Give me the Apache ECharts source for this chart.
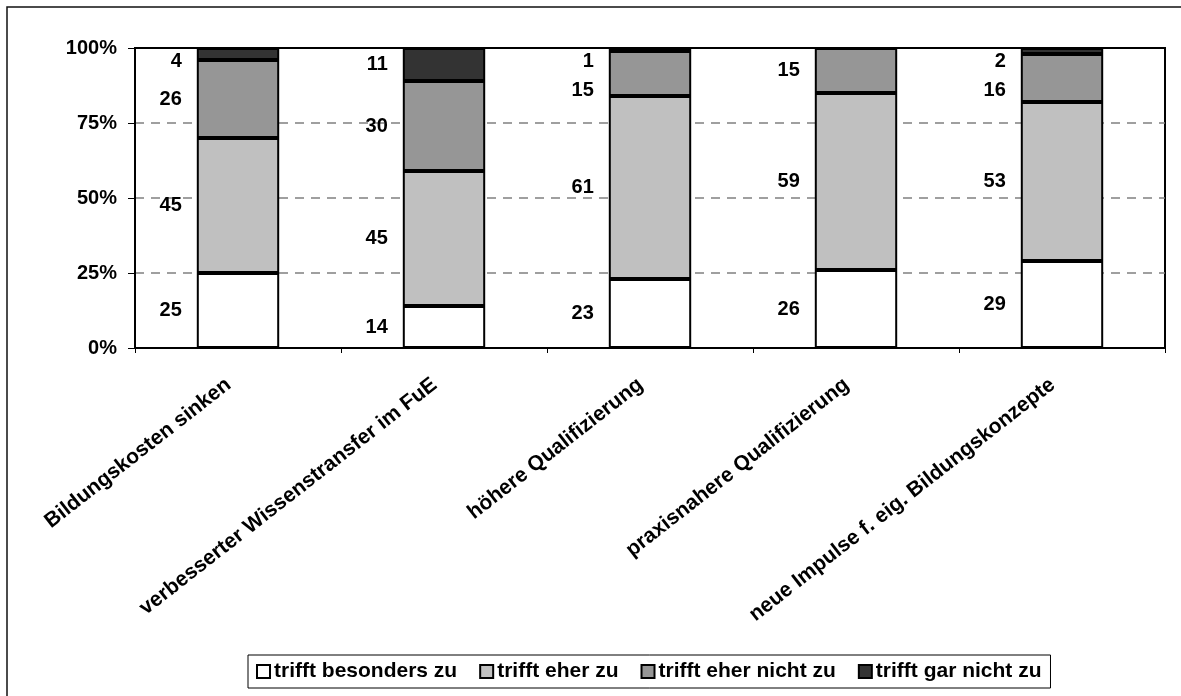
<!DOCTYPE html>
<html>
<head>
<meta charset="utf-8">
<script src="https://cdn.jsdelivr.net/npm/echarts@6/dist/echarts.min.js"></script>
<style>
  html, body { margin: 0; padding: 0; background: #fff; }
  #chart { width: 1181px; height: 696px; }
</style>
</head>
<body>
<div id="chart"></div>
<script>
// Survey answers per statement, in percent of respondents
const categories = [
  'Bildungskosten sinken',
  'verbesserter Wissenstransfer im FuE',
  'höhere Qualifizierung',
  'praxisnahere Qualifizierung',
  'neue Impulse f. eig. Bildungskonzepte'
];
const seriesNames = ['trifft besonders zu', 'trifft eher zu', 'trifft eher nicht zu', 'trifft gar nicht zu'];
const besondersZu = [25, 14, 23, 26, 29];
const eherZu      = [45, 45, 61, 59, 53];
const eherNichtZu = [26, 30, 15, 15, 16];
const garNichtZu  = [4, 11, 1, 0, 2];
const yTicks = [0, 25, 50, 75, 100];

const seriesValues = [besondersZu, eherZu, eherNichtZu, garNichtZu];
const fills = ['#FFFFFF', '#C0C0C0', '#969696', '#333333'];
const FONT = '"Liberation Sans", Arial, sans-serif';
const GRID_TOP = 48;

// Keep the labels of thin top segments readable: push them below the frame
// and keep the label underneath at a readable distance.
function nudgeLabel(p) {
  const cy = p.labelRect.y + p.labelRect.height / 2;
  const minCenter = GRID_TOP + 13;
  if (p.seriesIndex === 3) {
    return { dy: Math.max(0, minCenter - cy) };
  }
  if (p.seriesIndex === 2 && garNichtZu[p.dataIndex] > 0) {
    const above = Math.max(minCenter, (GRID_TOP + p.rect.y) / 2);
    return { dy: Math.max(0, above + 29 - cy) };
  }
  return {};
}

const chart = echarts.init(document.getElementById('chart'), null, { renderer: 'canvas' });

chart.setOption({
  animation: false,
  backgroundColor: '#fff',
  textStyle: { fontFamily: FONT },
  graphic: [{
    type: 'rect',
    shape: { x: 7, y: 7, width: 1400, height: 900 },
    style: { fill: 'none', stroke: '#111', lineWidth: 1.5 },
    silent: true
  }],
  grid: {
    left: 135, right: 16, top: GRID_TOP, bottom: 348,
    show: true, borderColor: '#000', borderWidth: 2, backgroundColor: 'transparent'
  },
  legend: {
    data: seriesNames,
    left: 248, top: 655,
    orient: 'horizontal',
    icon: 'rect',
    itemWidth: 13, itemHeight: 13,
    itemGap: 22,
    padding: [6, 9, 6, 8],
    borderColor: '#000', borderWidth: 1,
    textStyle: { fontFamily: FONT, fontSize: 21, fontWeight: 'bold', color: '#000', padding: [0, 0, 0, -1] }
  },
  xAxis: {
    type: 'category',
    data: categories,
    axisLine: { lineStyle: { color: '#000', width: 2 } },
    axisTick: { show: true, length: 5, lineStyle: { color: '#000', width: 1 } },
    axisLabel: {
      interval: 0, rotate: 38, margin: 27,
      padding: [0, 12, 0, 0],
      fontFamily: FONT, fontSize: 21, fontWeight: 'bold', color: '#000'
    },
    splitLine: { show: false }
  },
  yAxis: {
    type: 'value',
    min: yTicks[0], max: yTicks[yTicks.length - 1], interval: yTicks[1] - yTicks[0],
    axisLine: { show: true, lineStyle: { color: '#000', width: 2 } },
    axisTick: { show: true, length: 7, lineStyle: { color: '#000', width: 1 } },
    axisLabel: {
      formatter: '{value}%', margin: 18,
      fontFamily: FONT, fontSize: 20, fontWeight: 'bold', color: '#000'
    },
    splitLine: {
      show: true, showMinLine: false, showMaxLine: false,
      lineStyle: { color: '#808080', width: 1.5, type: [9, 7] }
    }
  },
  series: seriesNames.map((name, i) => ({
    name: name,
    type: 'bar',
    stack: 'antwort',
    barWidth: '40%',
    data: seriesValues[i],
    itemStyle: { color: fills[i], borderColor: '#000', borderWidth: 2 },
    label: {
      show: true,
      position: 'left',
      distance: 15,
      formatter: p => (p.value > 0 ? String(p.value) : ''),
      fontFamily: FONT, fontSize: 20, fontWeight: 'bold', color: '#000'
    },
    labelLayout: nudgeLabel,
    emphasis: { disabled: true }
  }))
});
</script>
</body>
</html>
